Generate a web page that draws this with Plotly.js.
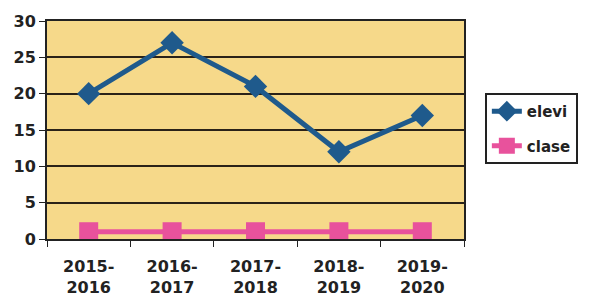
<!DOCTYPE html>
<html><head><meta charset="utf-8">
<script src="https://cdn.plot.ly/plotly-3.0.1.min.js"></script>
<style>html,body{margin:0;padding:0;background:#fff;}#chart{width:591px;height:305px;}</style>
</head><body><div id="chart"></div>
<script>
const categories = ["2015-<br>2016", "2016-<br>2017", "2017-<br>2018", "2018-<br>2019", "2019-<br>2020"];
const elevi = [20, 27, 21, 12, 17];
const clase = [1, 1, 1, 1, 1];
const yTicks = [0, 5, 10, 15, 20, 25, 30];

const traces = [
  {x: categories, y: elevi, name: "elevi", legendgroup: "a", type: "scatter", mode: "lines+markers",
   line: {color: "#1F5A8C", width: 5}, marker: {symbol: "diamond", size: 18, color: "#1F5A8C"}},
  {x: categories, y: clase, name: "clase", legendgroup: "b", type: "scatter", mode: "lines+markers",
   line: {color: "#E8529C", width: 5}, marker: {symbol: "square", size: 19, color: "#E8529C"}}
];
const layout = {
  width: 591, height: 305,
  margin: {l: 47, r: 127, t: 21, b: 66},
  paper_bgcolor: "#ffffff", plot_bgcolor: "#F6D98A",
  font: {family: "DejaVu Sans", size: 14, color: "#222"},
  xaxis: {type: "category", range: [-0.5, 4.5], showgrid: false, zeroline: false,
    showline: true, linecolor: "#222", linewidth: 2, mirror: true,
    ticks: "outside", ticklen: 6, tickcolor: "#222", tickson: "boundaries",
    ticklabelstandoff: 12,
    tickfont: {family: "DejaVu Sans", size: 16, color: "#222", weight: "bold"}},
  yaxis: {range: [0, 30], tickvals: yTicks, ticktext: yTicks.map(String),
    showgrid: true, gridcolor: "#2a2218", gridwidth: 2, zeroline: false,
    showline: true, linecolor: "#222", linewidth: 2, mirror: true,
    ticks: "outside", ticklen: 6, tickcolor: "#222",
    tickfont: {family: "DejaVu Sans", size: 16, color: "#222", weight: "bold"}},
  showlegend: true,
  legend: {x: 1.05, xanchor: "left", y: 0.67, yanchor: "top",
    bordercolor: "#222", borderwidth: 2, bgcolor: "#fff",
    font: {family: "DejaVu Sans", size: 15, color: "#222", weight: "bold"},
    tracegroupgap: 12}
};
Plotly.newPlot("chart", traces, layout, {displayModeBar: false, staticPlot: true});
</script></body></html>
